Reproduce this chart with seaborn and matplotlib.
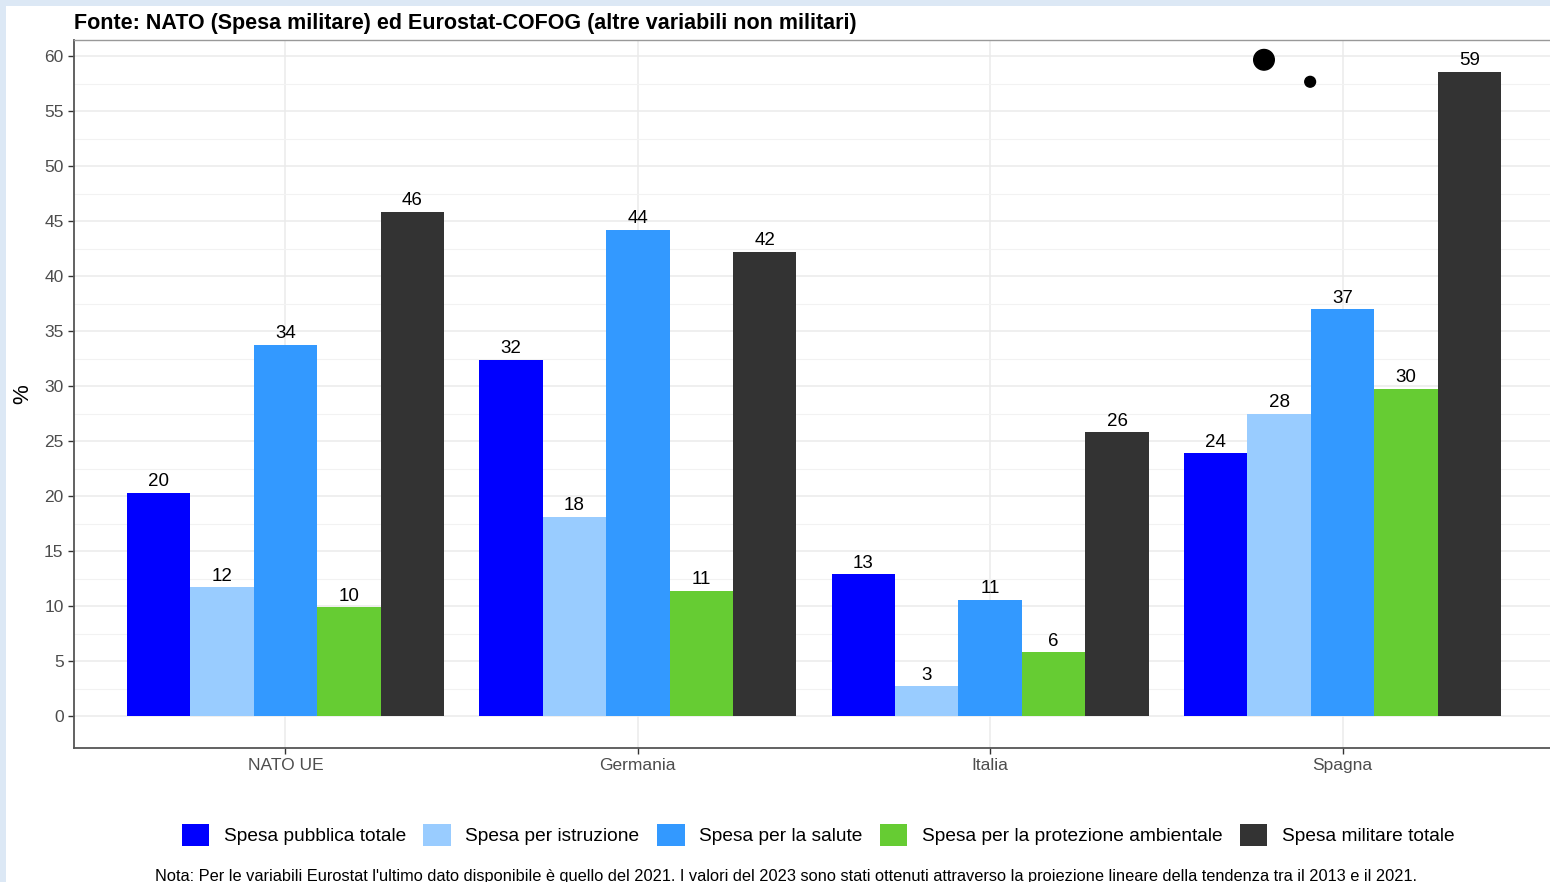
import numpy as np
import pandas as pd
import seaborn as sns
import matplotlib.pyplot as plt
from matplotlib.patches import Patch, Rectangle

W, H = 1550, 882
DPI = 100

countries = ["NATO UE", "Germania", "Italia", "Spagna"]
series = [
    "Spesa pubblica totale",
    "Spesa per istruzione",
    "Spesa per la salute",
    "Spesa per la protezione ambientale",
    "Spesa militare totale",
]
spesa_pubblica = [20.3, 32.4, 12.9, 23.9]
istruzione = [11.7, 18.1, 2.7, 27.5]
salute = [33.8, 44.2, 10.6, 37.0]
ambiente = [9.9, 11.4, 5.8, 29.8]
militare = [45.9, 42.2, 25.8, 58.6]
colors = ["#0000FF", "#99CCFF", "#3399FF", "#66CC33", "#333333"]

# the two stray dots in the top-right of the original
dot_x = [2.777, 2.908]
dot_y = [59.7, 57.7]
dot_size = [220, 60]

title = "Fonte: NATO (Spesa militare) ed Eurostat-COFOG (altre variabili non militari)"
note = ("Nota: Per le variabili Eurostat l'ultimo dato disponibile è quello del 2021. "
        "I valori del 2023 sono stati ottenuti attraverso la proiezione lineare della "
        "tendenza tra il 2013 e il 2021.")

rows = []
for s, vals in zip(series, [spesa_pubblica, istruzione, salute, ambiente, militare]):
    for c, v in zip(countries, vals):
        rows.append({"paese": c, "serie": s, "valore": v})
df = pd.DataFrame(rows)

sns.set_style("white")
plt.rcParams["font.family"] = ["Liberation Sans", "DejaVu Sans"]
plt.rcParams["text.color"] = "black"

fig = plt.figure(figsize=(W / DPI, H / DPI), dpi=DPI, facecolor="#DCE8F5")
fig.add_artist(Rectangle((6 / W, 0), 1, 1 - 6 / H, transform=fig.transFigure,
                         facecolor="white", edgecolor="none", zorder=-10))

ax = fig.add_axes([74 / W, 1 - 748 / H, (1554 - 74) / W, (748 - 40) / H])
ax.set_zorder(1)

sns.barplot(data=df, x="paese", y="valore", hue="serie", order=countries,
            hue_order=series, palette=colors, width=0.9, gap=0, saturation=1,
            edgecolor="none", ax=ax, legend=False, zorder=3)

for cont in ax.containers:
    labels = [f"{round(b.get_height()):.0f}" for b in cont]
    ax.bar_label(cont, labels=labels, padding=2, fontsize=13.5, color="black")

ax.scatter(dot_x, dot_y, s=dot_size, color="black", zorder=4)

ax.set_xlim(-0.6, 3.6)
ax.set_ylim(-2.9, 61.5)
ax.set_yticks(np.arange(0, 61, 5))
ax.set_yticks(np.arange(2.5, 61, 5), minor=True)
ax.grid(axis="y", which="major", color="#EBEBEB", lw=1.1, zorder=0)
ax.grid(axis="y", which="minor", color="#F2F2F2", lw=0.8, zorder=0)
ax.grid(axis="x", which="major", color="#EBEBEB", lw=1.1, zorder=0)
ax.set_axisbelow(True)

ax.tick_params(axis="both", which="major", length=4, width=1, color="#333333",
               labelsize=12.5, labelcolor="#4D4D4D", left=True, bottom=True)
ax.tick_params(axis="y", which="minor", length=0)
ax.set_xlabel("")
ax.set_ylabel("%", fontsize=16, color="black", labelpad=8)

for side in ["left", "bottom"]:
    ax.spines[side].set_color("#555555")
    ax.spines[side].set_linewidth(1.3)
for side in ["top", "right"]:
    ax.spines[side].set_color("#999999")
    ax.spines[side].set_linewidth(1)

fig.text(74 / W, 1 - 23 / H, title, fontsize=15.5, fontweight="bold",
         ha="left", va="center", color="black")

handles = [Patch(facecolor=c, edgecolor="none", label=s) for c, s in zip(colors, series)]
fig.legend(handles=handles, loc="center", bbox_to_anchor=(818 / W, 1 - 835 / H),
           ncol=5, frameon=False, fontsize=13.8, handlelength=1.45, handleheight=1.4,
           handletextpad=0.75, columnspacing=0.9, labelcolor="black")

fig.text(786 / W, 1 - 877 / H, note, fontsize=11.8, ha="center", va="center",
         color="black")

fig.savefig("out.png", dpi=DPI, facecolor=fig.get_facecolor())
